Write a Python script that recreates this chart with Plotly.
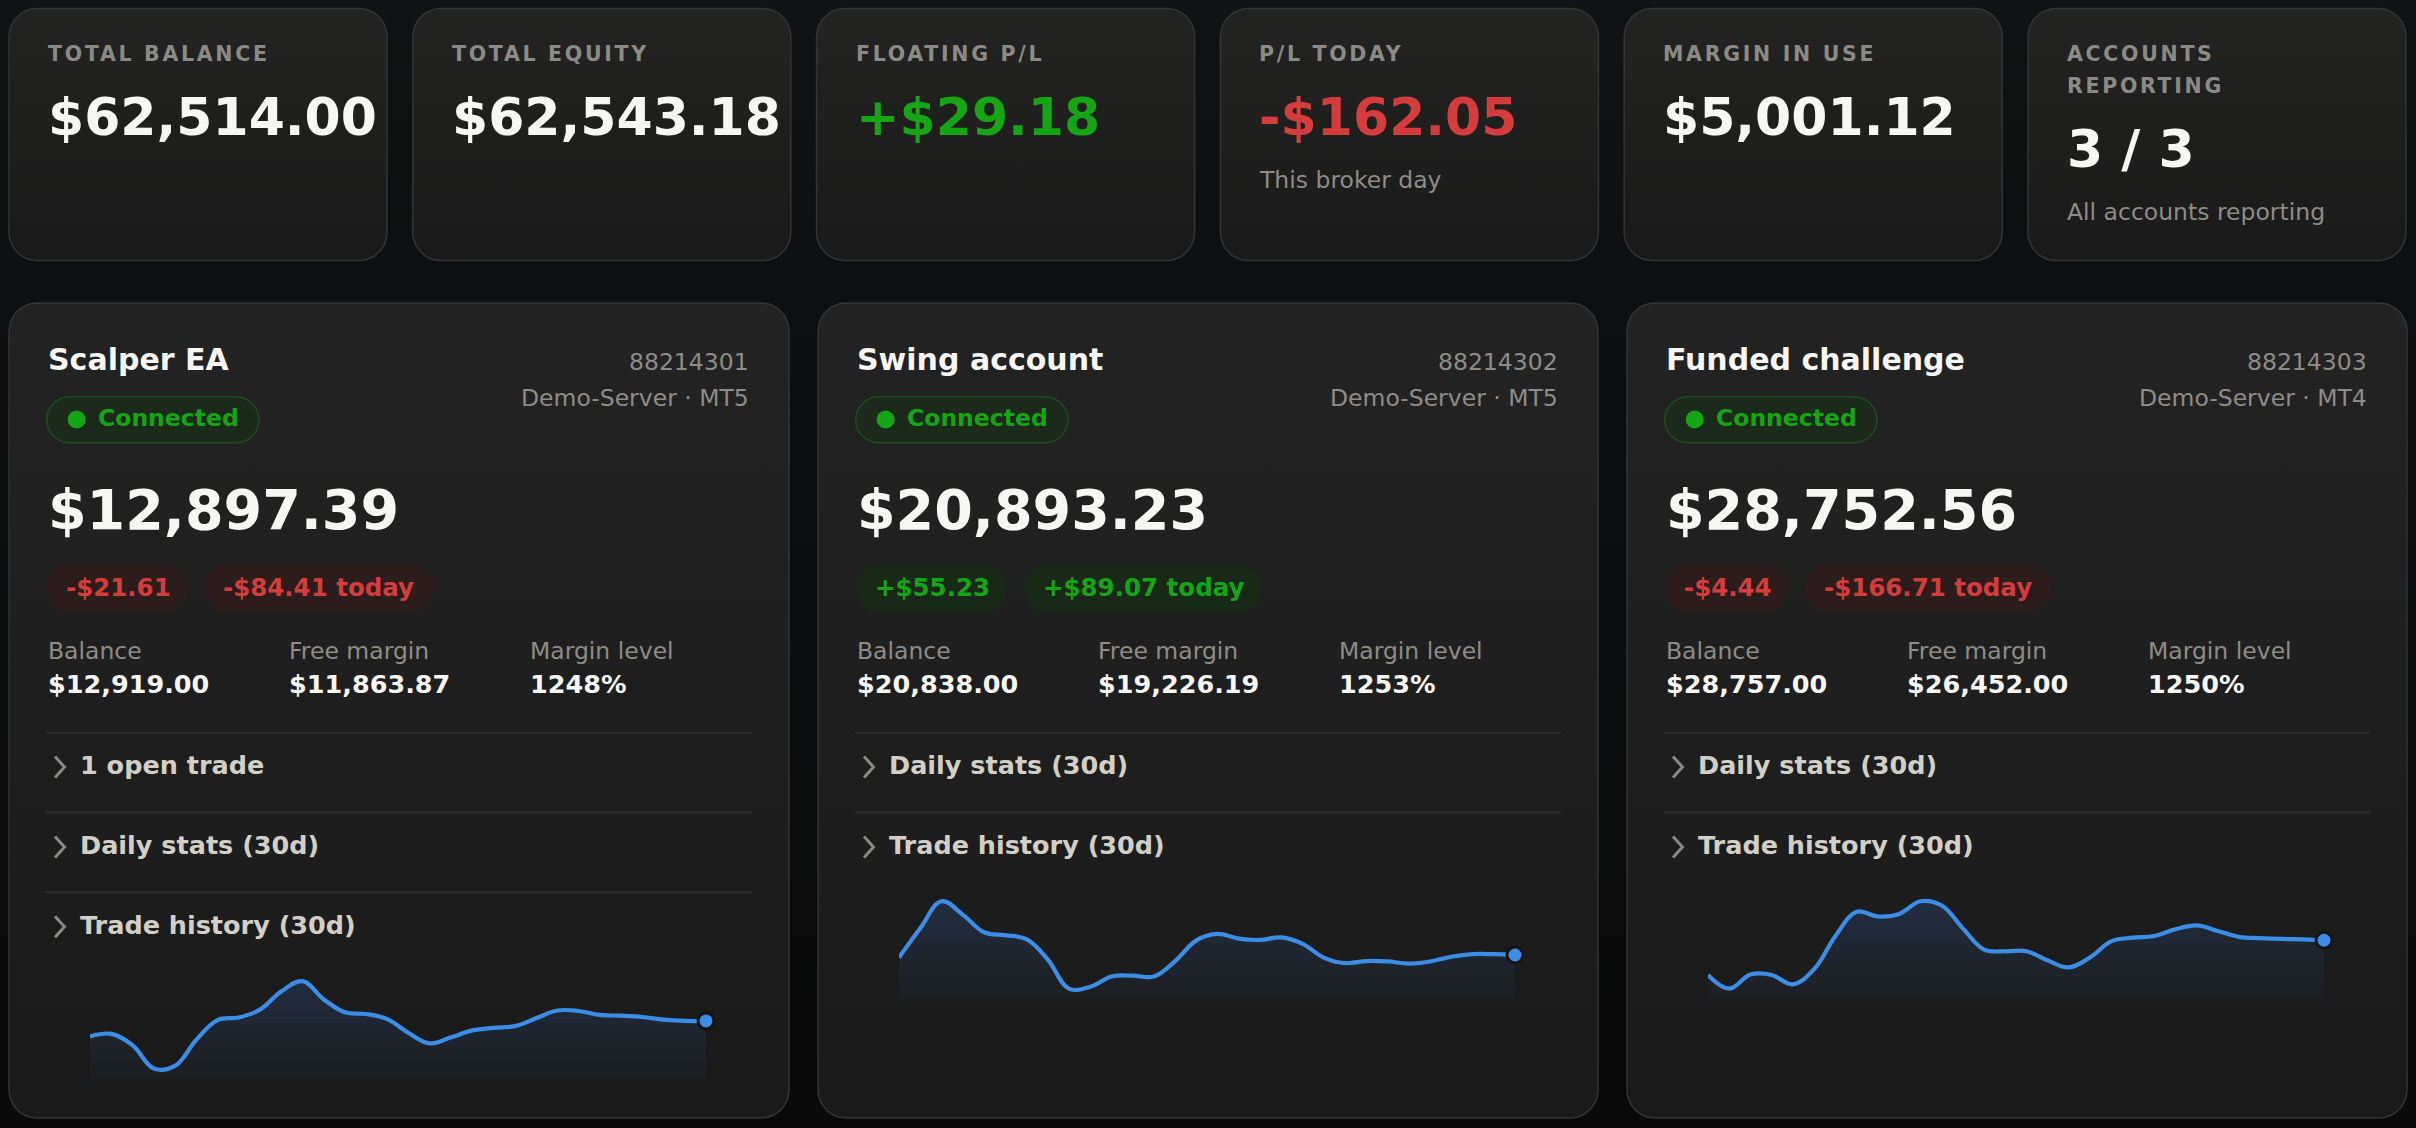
import numpy as np
import plotly.graph_objects as go

W, H = 2416, 1128
FONT = "DejaVu Sans"

# ---- summary strip ----
kpi_labels = ["TOTAL BALANCE", "TOTAL EQUITY", "FLOATING P/L", "P/L TODAY", "MARGIN IN USE", "ACCOUNTS REPORTING"]
kpi_values = ["$62,514.00", "$62,543.18", "+$29.18", "-$162.05", "$5,001.12", "3 / 3"]
kpi_notes = ["", "", "", "This broker day", "", "All accounts reporting"]
kpi_signs = [0, 0, 1, -1, 0, 0]

# ---- account cards ----
acct_names = ["Scalper EA", "Swing account", "Funded challenge"]
acct_ids = ["88214301", "88214302", "88214303"]
acct_servers = ["Demo-Server · MT5", "Demo-Server · MT5", "Demo-Server · MT4"]
acct_status = ["Connected", "Connected", "Connected"]
acct_equity = ["$12,897.39", "$20,893.23", "$28,752.56"]
acct_floating = [-21.61, 55.23, -4.44]
acct_today = [-84.41, 89.07, -166.71]
acct_balance = ["$12,919.00", "$20,838.00", "$28,757.00"]
acct_free_margin = ["$11,863.87", "$19,226.19", "$26,452.00"]
acct_margin_level = ["1248%", "1253%", "1250%"]
acct_open_trades = [1, 0, 0]

# equity curve, last 30 days
days = list(range(1, 31))
equity_scalper = [12861, 12867, 12841, 12787, 12793, 12853, 12899, 12905, 12923, 12965,
                  12989, 12947, 12917, 12913, 12901, 12869, 12845, 12859, 12875, 12881,
                  12885, 12903, 12921, 12920, 12911, 12909, 12906, 12900, 12897, 12897]
equity_swing = [20887, 20955, 21018, 20987, 20946, 20939, 20930, 20883, 20815, 20819,
                20843, 20845, 20843, 20879, 20927, 20942, 20931, 20928, 20934, 20919,
                20887, 20874, 20879, 20878, 20873, 20878, 20889, 20895, 20895, 20893]
equity_funded = [28671, 28639, 28672, 28671, 28649, 28685, 28763, 28820, 28809, 28815,
                 28845, 28835, 28781, 28731, 28727, 28727, 28705, 28689, 28713, 28751,
                 28759, 28763, 28779, 28788, 28775, 28761, 28758, 28756, 28755, 28753]
equity_curves = [equity_scalper, equity_swing, equity_funded]

# colours
WHITE = "#f6f6f4"
GRAY = "#8e8c86"
LABEL = "#8b8a85"
GREEN = "#15a515"
RED = "#d53d3d"
SECTION = "#d2cfc7"
BLUE = "#3b8de6"

# bold glyph advances (DejaVu Sans Bold, em) used to size the pills
BOLD_W = {"$": 0.696, "+": 0.838, "-": 0.415, ".": 0.38, ",": 0.38, " ": 0.348,
          "t": 0.478, "o": 0.687, "d": 0.716, "a": 0.675, "y": 0.652}


def text_width(s, size):
    return sum(BOLD_W.get(c, 0.696) for c in s) * size


def money(v):
    return ("+" if v > 0 else "-") + "${:,.2f}".format(abs(v))


def pill_path(x0, y0, x1, y1, r):
    k = 0.5523 * r
    return (f"M{x0+r},{y0} L{x1-r},{y0} C{x1-r+k},{y0} {x1},{y0+r-k} {x1},{y0+r} "
            f"L{x1},{y1-r} C{x1},{y1-r+k} {x1-r+k},{y1} {x1-r},{y1} "
            f"L{x0+r},{y1} C{x0+r-k},{y1} {x0},{y1-r+k} {x0},{y1-r} "
            f"L{x0},{y0+r} C{x0},{y0+r-k} {x0+r-k},{y0} {x0+r},{y0} Z")


def card_outline(x0, y0, x1, y1, r, n=14):
    xs, ys = [], []
    corners = [(x1 - r, y0 + r, -90, 0), (x1 - r, y1 - r, 0, 90),
               (x0 + r, y1 - r, 90, 180), (x0 + r, y0 + r, 180, 270)]
    for cx, cy, a0, a1 in corners:
        for t in np.radians(np.linspace(a0, a1, n)):
            xs.append(cx + r * np.cos(t))
            ys.append(cy + r * np.sin(t))
    xs.append(xs[0])
    ys.append(ys[0])
    return xs, ys


fig = go.Figure()
shapes = []
annotations = []


def text(x, y, s, size, color, weight=400, anchor="left"):
    annotations.append(dict(x=x, y=y, xref="x", yref="y", text=s, showarrow=False,
                            xanchor=anchor, yanchor="middle",
                            font=dict(family=FONT, size=size, color=color, weight=weight)))


def card(x0, y0, x1, y1, top, bottom):
    xs, ys = card_outline(x0, y0, x1, y1, 28)
    fig.add_trace(go.Scatter(
        x=xs, y=ys, mode="lines", fill="toself", hoverinfo="skip", showlegend=False,
        line=dict(color="#353535", width=1.5),
        fillgradient=dict(type="vertical", start=y0, stop=y1,
                          colorscale=[[0, top], [1, bottom]])))


# page background
fig.add_trace(go.Scatter(
    x=[0, W, W, 0, 0], y=[0, 0, H, H, 0], mode="lines", fill="toself", hoverinfo="skip",
    showlegend=False, line=dict(width=0),
    fillgradient=dict(type="vertical", start=0, stop=H,
                      colorscale=[[0, "#101215"], [0.5, "#0b0c0d"], [1, "#0a0a0a"]])))

# summary cards
for i, label in enumerate(kpi_labels):
    kx = 9 + 403.8 * i
    card(kx, 8.5, kx + 378, 260.5, "#232322", "#1a1a1a")
    # wrap the label inside the card
    lines, cur = [], ""
    for word in label.split():
        trial = (cur + " " + word).strip()
        if len(trial) * 17.1 > 304 and cur:
            lines.append(cur)
            cur = word
        else:
            cur = trial
    lines.append(cur)
    ly = 54
    for j, line in enumerate(lines):
        ly = 54 + 32 * j
        text(kx + 37, ly, f'<span style="letter-spacing:2.7px">{line}</span>', 20.5, LABEL, 700)
    vy = ly + 62.7
    color = GREEN if kpi_signs[i] > 0 else RED if kpi_signs[i] < 0 else WHITE
    text(kx + 37, vy, kpi_values[i], 52, color, 700)
    if kpi_notes[i]:
        text(kx + 37, vy + 62.8, kpi_notes[i], 23.5, GRAY)

# account cards
for i, name in enumerate(acct_names):
    ax = 9 + 809 * i
    card(ax, 303, ax + 780, 1118, "#232323", "#1a1a1a")
    left, right = ax + 37, ax + 742

    text(left, 359.7, name, 30, WHITE, 700)
    text(right, 361.5, acct_ids[i], 23.5, GRAY, anchor="right")
    text(right, 397.5, acct_servers[i], 23.5, GRAY, anchor="right")

    # status pill
    shapes.append(dict(type="path", path=pill_path(ax + 37.7, 396.7, ax + 250, 442.7, 23),
                       xref="x", yref="y", fillcolor="#1b2a1b",
                       line=dict(color="#1f4c1f", width=1.5)))
    shapes.append(dict(type="circle", xref="x", yref="y", x0=ax + 58.7, x1=ax + 76.7,
                       y0=410.5, y1=428.5, fillcolor=GREEN, line=dict(width=0)))
    text(ax + 86.5, 418, acct_status[i], 23.5, GREEN, 700)

    text(left, 509, acct_equity[i], 55.5, WHITE, 700)

    # P/L pills
    px0 = ax + 37
    for v, suffix in [(acct_floating[i], ""), (acct_today[i], " today")]:
        label = money(v) + suffix
        w = text_width(label, 24.5) + 37
        pos = v > 0
        shapes.append(dict(type="path", path=pill_path(px0, 564, px0 + w, 611.7, 23.8),
                           xref="x", yref="y",
                           fillcolor="#182918" if pos else "#2d1c1c", line=dict(width=0)))
        text(px0 + 17.5, 587, label, 24.5, GREEN if pos else RED, 700)
        px0 += w + 16

    # balance / free margin / margin level
    stats = [("Balance", acct_balance[i]), ("Free margin", acct_free_margin[i]),
             ("Margin level", acct_margin_level[i])]
    for j, (lab, val) in enumerate(stats):
        sx = left + 241 * j
        text(sx, 651.3, lab, 23.5, GRAY)
        text(sx, 684, val, 25.5, WHITE, 700)

    # collapsible sections
    sections = []
    n = acct_open_trades[i]
    if n:
        sections.append(f"{n} open trade" + ("s" if n > 1 else ""))
    sections += ["Daily stats (30d)", "Trade history (30d)"]
    dy = 732.7
    for j, sec in enumerate(sections):
        dy = 732.7 + 79.9 * j
        shapes.append(dict(type="line", xref="x", yref="y", x0=left, x1=ax + 743,
                           y0=dy, y1=dy, line=dict(color="#2e2e2e", width=2)))
        cy = dy + 32.3
        shapes.append(dict(type="path", xref="x", yref="y",
                           path=f"M{ax+46},{cy-8.5} L{ax+55.5},{cy+2} L{ax+46},{cy+12.5}",
                           fillcolor="rgba(0,0,0,0)", line=dict(color="#8a8985", width=3)))
        text(ax + 69, cy, sec, 25.5, SECTION, 700)

    # equity sparkline
    vals = equity_curves[i]
    span = max(vals) - min(vals)
    lo, hi = min(vals) - 0.13 * span, max(vals) + 0.13 * span
    top = dy + 77.3
    k = i + 2
    fig.add_trace(go.Scatter(
        x=days, y=vals, mode="lines", xaxis=f"x{k}", yaxis=f"y{k}", showlegend=False,
        hoverinfo="skip", line=dict(color=BLUE, width=4.2, shape="spline", smoothing=1.1),
        fill="tozeroy",
        fillgradient=dict(type="vertical", start=lo, stop=hi,
                          colorscale=[[0, "rgba(59,130,246,0.03)"], [1, "rgba(59,130,246,0.18)"]])))
    fig.add_trace(go.Scatter(
        x=[days[-1]], y=[vals[-1]], mode="markers", xaxis=f"x{k}", yaxis=f"y{k}",
        showlegend=False, hoverinfo="skip", cliponaxis=False,
        marker=dict(size=16, color=BLUE, line=dict(color="#141414", width=3))))
    fig.update_layout({
        f"xaxis{k}": dict(domain=[(ax + 81) / W, (ax + 697) / W], range=[days[0], days[-1]],
                          visible=False, fixedrange=True, anchor=f"y{k}"),
        f"yaxis{k}": dict(domain=[1 - (top + 110) / H, 1 - top / H], range=[lo, hi],
                          visible=False, fixedrange=True, anchor=f"x{k}"),
    })

fig.update_layout(
    width=W, height=H, margin=dict(l=0, r=0, t=0, b=0),
    paper_bgcolor="#0b0c0d", plot_bgcolor="rgba(0,0,0,0)",
    xaxis=dict(range=[0, W], domain=[0, 1], visible=False, fixedrange=True),
    yaxis=dict(range=[H, 0], domain=[0, 1], visible=False, fixedrange=True),
    shapes=shapes, annotations=annotations,
    hovermode=False, dragmode=False, showlegend=False,
    font=dict(family=FONT),
)

fig.write_html("out.html", config={"displayModeBar": False},
               post_script="document.body.style.margin='0';document.body.style.background='#0b0c0d';")
